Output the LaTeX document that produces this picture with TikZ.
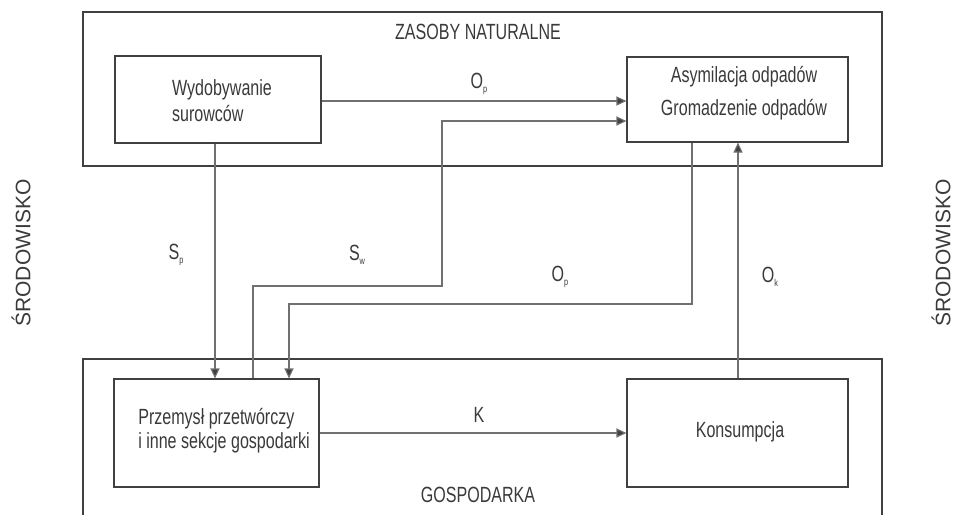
\documentclass[tikz,border=0pt]{standalone}
\usepackage{fontspec}
\setmainfont{Liberation Sans}[FakeStretch=0.73]
\newfontfamily\sidefont{Liberation Sans}
\usetikzlibrary{arrows.meta}
\definecolor{txtc}{HTML}{3A3A3A}
\definecolor{boxc}{HTML}{404040}
\definecolor{linec}{HTML}{707070}
\newcommand{\mysub}[1]{\raisebox{-0.3ex}{\fontsize{10}{10}\selectfont #1}}
\tikzset{
  every node/.style={text=txtc, font=\fontsize{22}{26}\selectfont, inner sep=0pt},
  outerbox/.style={draw=boxc, line width=1.1pt},
  procbox/.style={draw=boxc, line width=1.1pt, rectangle},
  conn/.style={draw=linec, line width=1.1pt, -{Triangle[length=10pt,width=9pt,fill=boxc]}},
  sidelbl/.style={rotate=90, font=\sidefont\fontsize{21}{24}\selectfont}
}
\begin{document}
\begin{tikzpicture}[x=1pt,y=-1pt]
\useasboundingbox[fill=white] (0,0) rectangle (953,515);
% outer boxes
\node[outerbox, minimum width=799pt, minimum height=154pt] (zas) at (482.5,89) {};
\draw[outerbox] (83,515) -- (83,359) -- (882,359) -- (882,515);
\node (zastxt) at (478,32) {ZASOBY NATURALNE};
\node (gostxt) at (478,495) {GOSPODARKA};
% process boxes
\node[procbox, minimum width=206pt, minimum height=87pt] (wyd) at (218,99.5) {};
\node[align=left, font=\fontsize{22}{26}\selectfont] (wydtxt) at (222,101) {Wydobywanie\\surowców};
\node[procbox, minimum width=221pt, minimum height=85pt] (asy) at (737.5,99.5) {};
\node[align=center, font=\fontsize{22}{33}\selectfont] (asytxt) at (744,93) {Asymilacja odpadów\\Gromadzenie odpadów};
\node[procbox, minimum width=205pt, minimum height=108pt] (prz) at (216.5,433) {};
\node[align=left, font=\fontsize{22}{24}\selectfont] (prztxt) at (224,431) {Przemysł przetwórczy\\i inne sekcje gospodarki};
\node[procbox, minimum width=221pt, minimum height=108pt] (kon) at (737.5,433) {};
\node (kontxt) at (740,432) {Konsumpcja};
% side labels
\node[sidelbl] (srl) at (21,253) {ŚRODOWISKO};
\node[sidelbl] (srr) at (941,253) {ŚRODOWISKO};
% connectors
\draw[conn] (wyd.east |- 0,101) -- (asy.west |- 0,101);
\draw[conn] (prz.north -| 253,0) |- (442,286) |- (asy.west |- 0,121);
\draw[conn] (wyd.south -| 215,0) -- (prz.north -| 215,0);
\draw[conn] (asy.south -| 692,0) |- (289,304) -- (prz.north -| 289,0);
\draw[conn] (kon.north -| 738,0) -- (asy.south -| 738,0);
\draw[conn] (prz.east |- 0,433) -- (kon.west |- 0,433);
% flow labels
\node (lop1) at (479,84) {O\mysub{p}};
\node (lsp) at (176,255) {S\mysub{p}};
\node (lsw) at (357,255) {S\mysub{w}};
\node (lop2) at (560,277) {O\mysub{p}};
\node (lok) at (770,277) {O\mysub{k}};
\node (lk) at (479,415) {K};
\end{tikzpicture}
\end{document}
